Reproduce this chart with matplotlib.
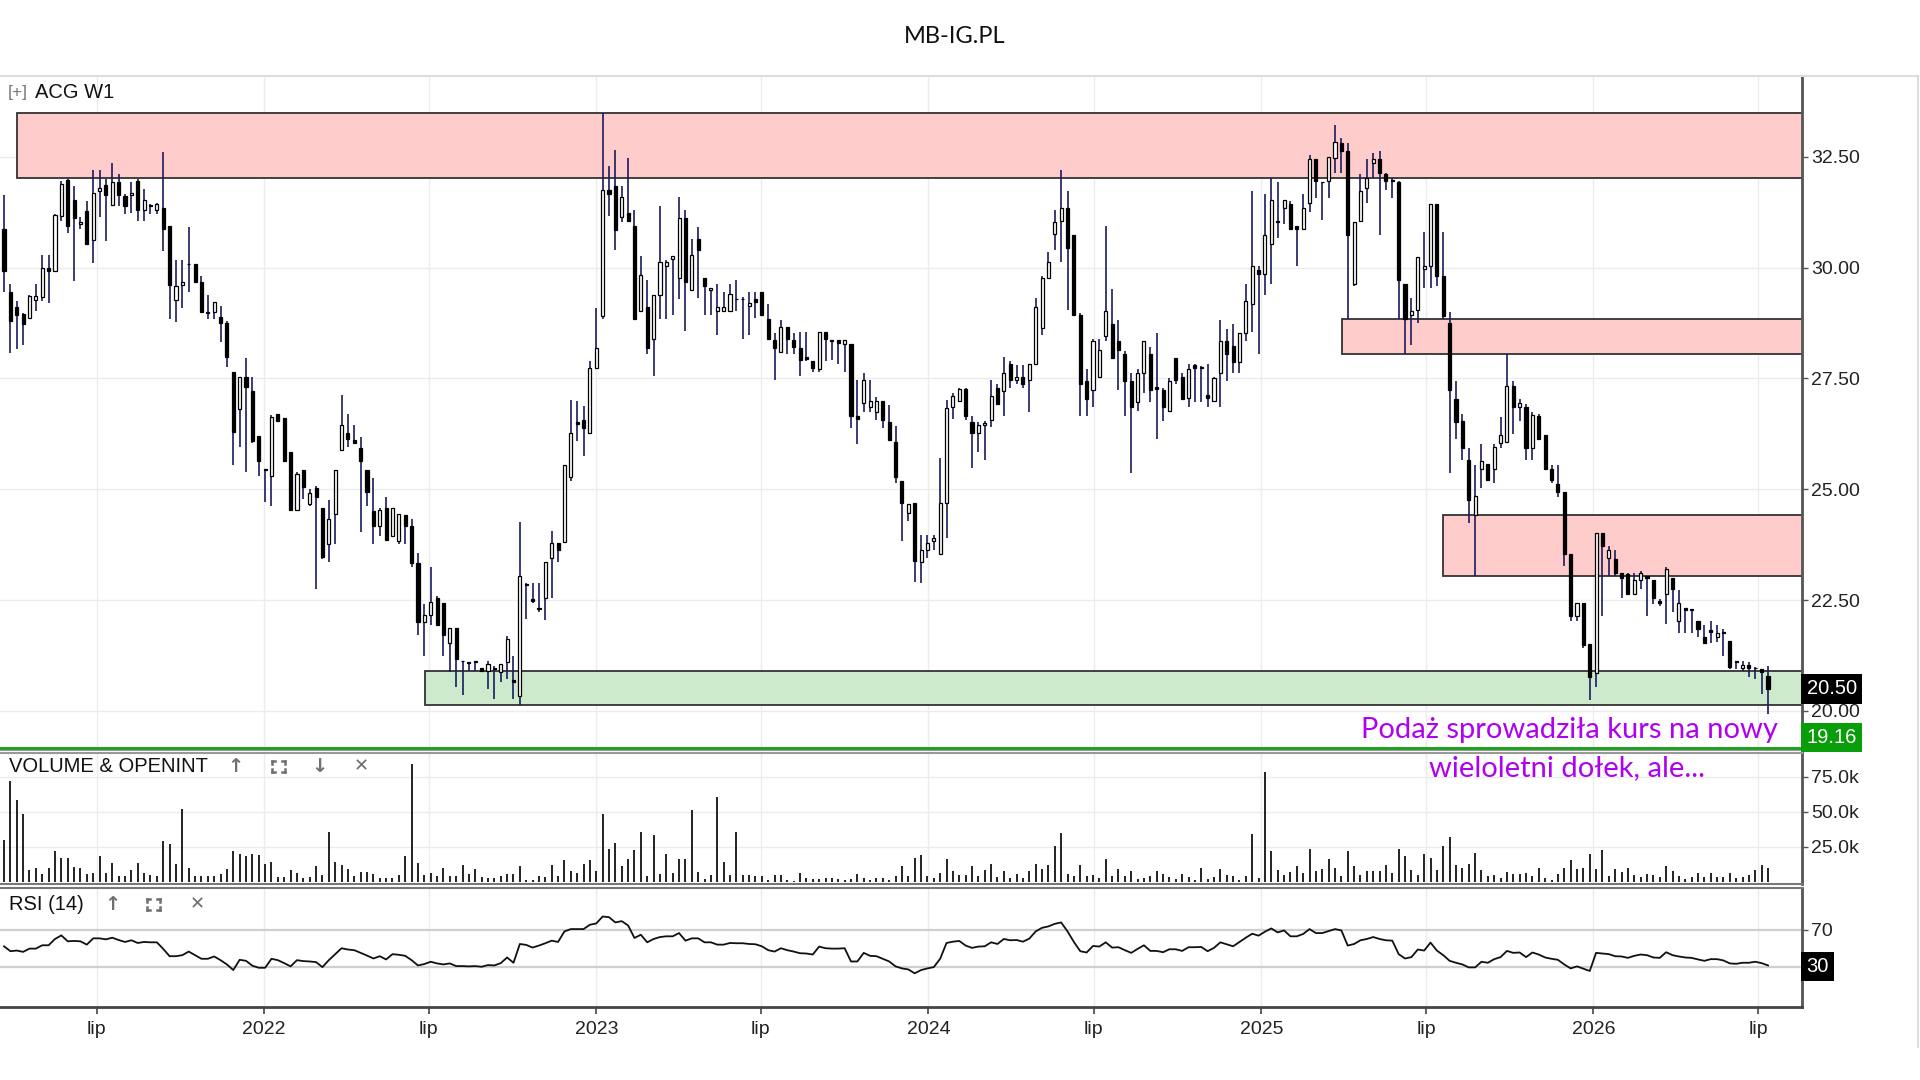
import numpy as np
import pandas as pd
import matplotlib
matplotlib.use("Agg")
import matplotlib.pyplot as plt
import matplotlib.dates as mdates
import matplotlib.transforms as mtransforms
from matplotlib.patches import Rectangle
from matplotlib.lines import Line2D

plt.rcParams['font.family'] = ['Liberation Sans', 'DejaVu Sans']

# ---- weekly candles ACG (W1) ----
start_date = "2021-03-21"

opens = [30.88, 29.46, 29.10, 28.96, 28.86, 29.27, 29.33, 29.98, 29.92, 31.17,
         31.98, 31.53, 30.98, 31.27, 30.63, 31.72, 31.86, 31.42, 31.94, 31.61,
         31.63, 31.96, 31.29, 31.39, 31.29, 31.35, 30.93, 29.27, 29.60, 30.08,
         30.08, 29.67, 29.00, 29.00, 28.89, 28.75, 27.64, 26.81, 27.54, 27.21,
         26.21, 25.45, 25.29, 26.69, 26.61, 25.85, 24.53, 25.43, 24.67, 25.03,
         24.58, 23.77, 24.44, 25.89, 26.28, 26.11, 25.94, 25.43, 24.50, 24.18,
         24.58, 23.94, 23.83, 24.42, 24.17, 23.33, 22.00, 22.17, 22.54, 22.44,
         21.54, 21.88, 21.13, 21.10, 21.10, 20.96, 20.90, 20.98, 20.89, 21.10,
         20.70, 20.33, 22.86, 22.53, 22.30, 22.54, 23.44, 23.79, 23.81, 25.27,
         26.52, 26.56, 26.27, 27.74, 28.90, 31.74, 31.85, 31.13, 31.22, 30.94,
         29.02, 29.11, 28.39, 29.38, 30.04, 30.20, 29.76, 31.12, 29.49, 30.65,
         29.76, 29.49, 29.02, 29.02, 29.02, 29.29, 29.30, 29.13, 29.29, 29.46,
         28.84, 28.37, 28.10, 28.66, 28.37, 28.19, 27.98, 27.90, 27.72, 28.54,
         28.37, 28.37, 28.28, 28.28, 26.65, 26.94, 26.85, 26.74, 27.00, 26.52,
         26.07, 25.18, 24.46, 24.70, 23.37, 23.62, 23.84, 23.53, 24.70, 26.85,
         26.99, 27.26, 26.52, 26.28, 26.45, 26.56, 27.28, 27.21, 27.83, 27.46,
         27.54, 27.46, 27.83, 28.63, 29.76, 30.76, 31.04, 31.34, 30.74, 28.93,
         27.44, 27.23, 27.54, 28.46, 28.72, 28.35, 28.04, 27.44, 26.96, 27.63,
         28.04, 27.30, 27.23, 26.76, 27.95, 27.53, 27.06, 27.81, 27.74, 27.12,
         27.00, 27.63, 28.35, 28.24, 27.86, 28.53, 29.17, 29.94, 29.85, 30.54,
         31.04, 31.34, 31.43, 30.94, 30.87, 31.46, 32.44, 31.94, 31.96, 32.47,
         32.80, 32.63, 29.62, 31.04, 31.79, 32.35, 32.44, 32.12, 31.98, 31.94,
         29.64, 28.93, 29.04, 29.96, 30.04, 31.43, 29.82, 28.75, 27.03, 26.54,
         25.65, 24.42, 25.45, 25.58, 25.45, 26.04, 26.07, 27.32, 26.85, 26.85,
         25.92, 26.65, 26.22, 25.45, 25.12, 24.93, 23.53, 22.14, 22.44, 21.52,
         20.85, 24.02, 23.44, 23.42, 23.12, 23.10, 22.63, 22.95, 23.04, 22.95,
         22.49, 22.63, 23.00, 22.03, 22.32, 22.30, 22.03, 21.67, 21.83, 21.67,
         21.78, 21.58, 21.12, 20.96, 21.03, 20.98, 20.94, 20.80]

highs = [31.64, 29.64, 29.25, 28.97, 29.37, 29.63, 30.29, 30.29, 31.20, 31.96,
         32.00, 31.83, 31.14, 31.50, 32.19, 32.19, 32.00, 32.36, 32.11, 31.67,
         31.93, 32.00, 31.77, 31.44, 31.46, 32.61, 30.93, 30.17, 30.17, 30.92,
         30.08, 29.80, 29.39, 29.23, 29.14, 28.79, 27.64, 27.54, 27.96, 27.54,
         26.21, 25.46, 26.67, 26.69, 26.61, 25.85, 25.38, 25.43, 25.00, 25.08,
         24.58, 24.75, 25.43, 27.13, 26.69, 26.44, 26.17, 25.43, 25.25, 24.58,
         24.83, 24.58, 24.44, 24.42, 24.33, 23.56, 22.42, 23.25, 22.60, 22.44,
         21.88, 21.88, 21.13, 21.11, 21.13, 20.98, 21.13, 21.02, 21.07, 21.70,
         21.25, 24.26, 22.88, 22.88, 22.88, 23.35, 24.06, 23.79, 25.54, 27.01,
         27.00, 26.88, 27.90, 29.08, 33.48, 32.28, 32.65, 31.85, 32.47, 31.29,
         30.27, 29.73, 29.38, 31.38, 30.18, 30.27, 31.58, 31.29, 30.65, 30.92,
         29.76, 29.55, 29.64, 29.44, 29.64, 29.73, 29.33, 29.44, 29.44, 29.46,
         29.17, 28.53, 28.81, 28.66, 28.53, 28.54, 28.54, 27.90, 28.54, 28.54,
         28.37, 28.37, 28.37, 28.28, 27.46, 27.63, 27.46, 27.08, 27.00, 26.90,
         26.43, 25.18, 24.67, 24.70, 23.97, 23.97, 23.97, 25.71, 27.01, 27.17,
         27.28, 27.28, 26.65, 26.52, 26.54, 27.46, 27.37, 27.99, 27.90, 27.81,
         27.81, 27.83, 29.31, 29.82, 30.36, 31.29, 32.20, 31.72, 30.74, 28.97,
         27.71, 28.39, 28.39, 30.94, 29.51, 28.81, 28.12, 27.62, 27.72, 28.35,
         28.21, 28.53, 27.28, 27.50, 27.95, 27.63, 27.83, 27.83, 27.78, 27.83,
         27.54, 28.81, 28.62, 28.72, 28.53, 29.64, 31.72, 30.04, 31.65, 32.03,
         31.92, 31.52, 31.49, 30.94, 31.65, 32.53, 32.44, 31.94, 32.50, 33.21,
         32.92, 32.80, 31.03, 32.10, 32.44, 32.59, 32.63, 32.14, 32.02, 31.96,
         29.64, 29.31, 30.24, 30.80, 31.43, 31.43, 30.80, 28.99, 27.44, 26.70,
         25.92, 25.54, 26.03, 25.58, 26.03, 26.63, 28.04, 27.44, 27.03, 26.92,
         26.74, 26.70, 26.22, 25.54, 25.54, 24.93, 23.53, 22.44, 22.44, 21.52,
         24.02, 24.02, 23.72, 23.62, 23.12, 23.12, 23.12, 23.15, 23.05, 22.95,
         22.52, 23.24, 23.00, 22.72, 22.32, 22.31, 22.03, 21.94, 22.03, 21.94,
         21.85, 21.58, 21.12, 21.12, 21.10, 20.99, 20.94, 21.01]

lows = [29.46, 28.08, 28.17, 28.25, 28.86, 29.03, 29.25, 29.21, 29.90, 31.04,
        30.79, 29.69, 30.88, 30.50, 30.11, 31.13, 30.61, 31.38, 31.38, 31.20,
        31.22, 31.04, 31.04, 31.20, 31.20, 30.38, 28.83, 28.77, 29.08, 29.44,
        29.68, 29.00, 28.83, 28.83, 28.33, 27.75, 25.54, 25.96, 25.38, 26.04,
        25.29, 24.71, 24.63, 26.53, 25.63, 24.53, 24.53, 24.78, 24.63, 22.75,
        23.42, 23.35, 23.77, 25.89, 25.96, 26.04, 24.03, 24.63, 23.77, 23.94,
        23.86, 23.94, 23.77, 23.77, 23.25, 21.71, 21.25, 21.94, 21.94, 21.25,
        20.88, 20.54, 20.36, 20.90, 20.90, 20.90, 20.50, 20.27, 20.65, 20.71,
        20.27, 20.13, 22.08, 22.43, 22.23, 22.05, 22.54, 23.37, 23.81, 25.18,
        26.09, 25.76, 26.27, 27.74, 28.84, 31.16, 30.40, 31.03, 31.04, 28.84,
        29.02, 28.04, 27.56, 28.84, 28.84, 28.93, 29.29, 28.57, 29.49, 29.31,
        28.93, 28.93, 28.48, 29.02, 29.02, 29.02, 28.39, 28.48, 28.87, 28.93,
        28.39, 27.46, 28.10, 28.04, 28.04, 27.56, 27.90, 27.65, 27.65, 27.90,
        27.92, 27.83, 27.65, 26.38, 26.03, 26.74, 26.74, 26.56, 26.38, 26.12,
        25.15, 23.84, 24.29, 22.90, 22.88, 23.46, 23.62, 23.53, 23.90, 26.58,
        26.96, 26.56, 25.47, 25.83, 25.65, 26.40, 26.92, 26.65, 27.29, 27.37,
        27.29, 26.74, 27.83, 28.48, 29.76, 30.40, 30.13, 29.04, 28.93, 26.65,
        26.65, 26.85, 27.54, 28.35, 27.95, 27.23, 26.65, 25.36, 26.76, 27.17,
        26.96, 26.13, 26.54, 26.74, 27.38, 27.03, 26.85, 26.96, 26.96, 26.85,
        26.96, 26.85, 27.44, 27.63, 27.63, 28.35, 28.54, 28.06, 29.38, 29.64,
        30.67, 30.98, 30.87, 30.04, 30.87, 31.25, 31.56, 31.07, 31.56, 32.14,
        32.14, 28.84, 29.58, 31.04, 31.46, 32.01, 30.74, 31.76, 31.56, 28.84,
        28.06, 28.26, 28.75, 29.55, 29.55, 29.58, 28.84, 25.36, 26.13, 25.65,
        24.24, 23.04, 25.03, 25.18, 25.15, 25.92, 26.04, 26.25, 26.54, 25.65,
        25.65, 26.13, 25.45, 25.15, 24.82, 23.26, 22.03, 22.03, 21.43, 20.24,
        20.54, 22.14, 23.04, 23.04, 22.54, 22.63, 22.63, 22.74, 22.14, 22.41,
        22.37, 21.96, 22.23, 21.76, 21.76, 21.76, 21.67, 21.54, 21.54, 21.56,
        21.25, 20.94, 20.94, 20.90, 20.76, 20.72, 20.38, 19.94]

closes = [29.92, 28.79, 28.92, 28.72, 29.35, 29.35, 29.98, 29.92, 31.18, 31.88,
          30.94, 31.11, 31.02, 30.53, 31.68, 31.79, 31.63, 31.94, 31.64, 31.38,
          31.68, 31.29, 31.52, 31.42, 31.43, 30.88, 29.60, 29.58, 29.67, 30.07,
          29.68, 29.00, 28.98, 29.23, 28.75, 27.98, 26.29, 27.54, 27.31, 26.08,
          25.63, 25.44, 26.63, 26.53, 25.63, 24.53, 25.35, 25.04, 24.92, 24.83,
          23.48, 24.33, 25.43, 26.44, 26.13, 26.04, 25.63, 24.94, 24.18, 24.53,
          23.86, 24.58, 24.44, 24.18, 23.33, 22.00, 22.17, 22.46, 21.94, 21.71,
          21.88, 21.17, 21.12, 21.09, 21.13, 20.90, 21.07, 20.95, 21.05, 21.63,
          20.66, 23.05, 22.84, 22.47, 22.32, 23.35, 23.79, 23.62, 25.54, 26.27,
          26.47, 26.38, 27.74, 28.19, 31.74, 31.67, 30.85, 31.58, 31.04, 28.84,
          29.84, 28.19, 29.38, 30.13, 30.13, 30.25, 31.12, 29.67, 30.29, 30.40,
          29.58, 29.55, 29.11, 29.11, 29.40, 29.28, 29.28, 29.20, 29.23, 28.93,
          28.39, 28.19, 28.66, 28.39, 28.21, 27.92, 27.93, 27.74, 28.54, 28.39,
          28.35, 28.30, 28.37, 26.65, 26.58, 27.47, 27.00, 27.00, 26.56, 26.12,
          25.27, 24.70, 24.67, 23.39, 23.62, 23.78, 23.90, 24.70, 26.83, 27.10,
          27.26, 26.65, 26.28, 26.46, 26.50, 27.10, 26.92, 27.63, 27.46, 27.54,
          27.37, 27.83, 29.11, 29.76, 30.13, 31.03, 31.34, 30.45, 28.93, 27.37,
          27.03, 28.35, 28.15, 29.02, 27.95, 28.15, 27.44, 26.85, 27.63, 28.35,
          27.23, 27.25, 26.85, 27.44, 27.46, 27.03, 27.72, 27.74, 27.76, 27.05,
          27.50, 28.35, 28.06, 27.86, 28.53, 29.24, 30.03, 29.85, 30.74, 31.52,
          31.02, 31.52, 30.87, 30.87, 31.34, 32.44, 31.96, 31.92, 32.50, 32.83,
          32.63, 30.74, 31.03, 31.72, 32.03, 32.44, 32.14, 31.96, 31.96, 29.73,
          28.84, 29.02, 30.24, 30.04, 31.43, 29.82, 28.90, 27.23, 26.52, 25.92,
          24.76, 24.85, 25.63, 25.20, 25.96, 26.22, 27.32, 26.85, 26.94, 25.92,
          26.67, 26.13, 25.45, 25.20, 24.94, 23.53, 22.14, 22.44, 21.49, 20.76,
          24.02, 23.72, 23.62, 23.12, 23.00, 22.63, 22.95, 23.12, 23.00, 22.54,
          22.44, 23.21, 22.74, 22.44, 22.28, 22.28, 21.85, 21.54, 21.79, 21.76,
          21.76, 21.00, 21.10, 21.03, 20.97, 20.96, 20.87, 20.50]

# volume in thousands
volume_k = [30.0, 71.6, 58.3, 48.3, 8.3, 9.8, 5.5, 9.8, 21.7, 16.9,
            16.9, 10.7, 9.8, 5.5, 6.2, 18.1, 6.2, 13.3, 4.3, 4.3,
            8.3, 13.3, 6.2, 4.8, 3.8, 28.8, 26.9, 12.6, 51.9, 9.8,
            3.8, 4.3, 4.3, 3.8, 5.5, 9.0, 21.7, 19.8, 18.1, 19.8,
            19.0, 12.6, 14.3, 3.6, 3.1, 8.3, 6.2, 2.4, 3.1, 10.9,
            4.8, 35.2, 14.3, 11.9, 9.0, 4.3, 7.1, 6.7, 5.5, 2.4,
            2.4, 2.4, 4.8, 18.1, 84.0, 13.3, 4.8, 6.2, 3.8, 9.8,
            3.8, 4.3, 11.9, 5.5, 9.0, 3.1, 2.4, 2.4, 3.8, 5.5,
            5.5, 10.9, 1.4, 1.4, 3.8, 3.1, 11.9, 3.8, 15.5, 7.4,
            6.2, 12.6, 15.5, 7.4, 48.3, 23.3, 27.6, 10.9, 16.2, 22.6,
            35.7, 3.8, 33.3, 5.5, 19.8, 6.2, 16.2, 16.2, 51.2, 7.1,
            1.9, 4.8, 60.7, 14.3, 4.8, 35.7, 4.8, 4.8, 3.8, 3.8,
            1.2, 4.8, 4.8, 1.2, 0.5, 6.2, 2.4, 1.9, 1.9, 2.4,
            2.4, 1.9, 1.2, 1.9, 5.5, 2.6, 1.4, 2.4, 2.4, 1.4,
            3.8, 10.9, 3.8, 16.9, 19.0, 4.3, 2.6, 6.2, 16.2, 7.4,
            4.8, 4.8, 10.9, 3.8, 8.3, 12.6, 3.1, 7.4, 2.4, 5.5,
            2.6, 7.4, 12.6, 9.0, 11.9, 25.2, 34.7, 5.5, 3.8, 11.9,
            3.8, 4.8, 2.6, 16.2, 3.8, 9.0, 3.8, 7.4, 1.9, 2.4,
            3.8, 7.4, 5.5, 3.1, 1.9, 5.5, 3.1, 1.4, 9.8, 2.0,
            3.1, 9.0, 4.8, 3.8, 1.4, 3.8, 33.8, 2.4, 78.5, 21.9,
            8.3, 4.8, 7.1, 10.9, 6.2, 23.3, 7.4, 9.0, 16.2, 9.8,
            3.8, 21.9, 10.9, 4.8, 7.4, 7.4, 7.4, 11.9, 6.2, 23.3,
            18.1, 8.3, 4.8, 19.8, 16.9, 8.3, 25.2, 31.6, 11.9, 9.5,
            12.6, 20.5, 8.3, 3.8, 4.8, 2.6, 7.1, 5.5, 5.5, 6.2,
            3.8, 9.8, 2.6, 1.4, 5.5, 9.8, 15.5, 9.0, 9.8, 19.8,
            9.0, 22.6, 3.8, 9.0, 7.1, 9.8, 4.8, 3.1, 5.5, 4.8,
            3.1, 10.9, 7.4, 3.8, 1.9, 3.1, 6.2, 3.1, 6.2, 3.1,
            3.1, 6.2, 2.4, 3.1, 4.8, 8.6, 11.9, 9.8]

rsi14 = [52.1, 46.8, 47.5, 46.1, 49.6, 49.6, 53.2, 53.2, 60.0, 63.9,
         57.5, 57.9, 57.5, 53.9, 60.7, 60.7, 59.6, 61.4, 58.9, 56.8,
         58.6, 55.7, 56.8, 56.4, 56.4, 49.3, 41.4, 41.4, 42.5, 46.4,
         42.5, 38.6, 38.6, 41.1, 37.1, 32.5, 26.4, 37.5, 36.4, 31.1,
         28.9, 28.9, 38.6, 37.1, 33.9, 30.4, 37.1, 36.1, 35.7, 35.0,
         29.6, 37.1, 43.6, 50.0, 48.6, 47.9, 45.0, 42.1, 38.9, 41.4,
         37.9, 43.6, 42.9, 41.8, 37.1, 31.4, 32.9, 35.4, 33.6, 32.5,
         33.6, 30.7, 30.7, 30.4, 30.7, 30.0, 31.8, 31.4, 33.9, 40.0,
         34.3, 54.6, 53.6, 50.7, 52.9, 55.4, 58.2, 56.8, 68.2, 70.7,
         70.7, 70.7, 75.4, 76.8, 84.3, 83.6, 77.9, 79.3, 74.6, 61.1,
         64.6, 56.4, 60.0, 62.1, 62.9, 62.9, 66.4, 58.2, 60.7, 60.7,
         56.4, 56.4, 53.9, 53.9, 55.7, 55.4, 55.4, 54.6, 54.3, 52.1,
         47.9, 46.4, 50.0, 47.9, 46.4, 44.6, 44.3, 43.2, 51.8, 50.0,
         49.6, 49.6, 50.0, 35.7, 35.7, 45.0, 41.8, 41.4, 38.6, 35.7,
         30.4, 28.2, 27.1, 22.9, 26.4, 28.2, 29.6, 38.6, 55.7, 57.1,
         57.9, 52.9, 50.4, 51.8, 52.1, 56.4, 54.6, 60.0, 58.6, 58.9,
         57.1, 60.4, 68.2, 72.1, 73.6, 76.4, 77.9, 68.2, 56.8, 46.8,
         45.4, 52.5, 51.8, 56.4, 50.7, 51.1, 47.9, 45.0, 49.3, 53.2,
         47.1, 47.1, 45.7, 48.9, 48.9, 47.1, 51.1, 51.1, 51.4, 46.8,
         50.4, 56.4, 54.3, 52.1, 56.8, 61.4, 65.7, 63.6, 67.9, 71.4,
         67.1, 69.3, 62.9, 62.9, 65.4, 70.7, 66.4, 66.4, 68.6, 70.7,
         69.3, 52.9, 54.6, 58.6, 60.0, 62.1, 60.0, 58.6, 58.2, 43.6,
         38.9, 40.4, 48.6, 47.5, 56.1, 47.5, 42.5, 36.4, 34.3, 32.5,
         29.3, 29.3, 35.4, 34.3, 38.2, 40.4, 47.1, 45.0, 45.4, 40.4,
         45.4, 43.2, 40.0, 38.6, 37.5, 32.5, 28.2, 30.4, 27.9, 25.4,
         45.0, 44.3, 43.6, 41.4, 41.1, 39.6, 41.8, 43.2, 42.5, 40.0,
         39.6, 45.7, 42.5, 41.1, 40.0, 39.6, 37.9, 36.4, 38.2, 38.2,
         36.8, 33.6, 33.2, 34.3, 34.3, 35.4, 33.9, 31.4]

# supply / demand zones drawn on the chart
zone_start = ['2021-04-04', '2022-06-27', '2025-03-31', '2025-07-20']
zone_low = [32.02, 20.13, 28.06, 23.04]
zone_high = [33.48, 20.91, 28.84, 24.42]
zone_face = ['#ffcccc', '#cdeacd', '#ffcccc', '#ffcccc']
support_level = 19.16

tick_dates = ['2021-07-01', '2022-01-01', '2022-07-01', '2023-01-01', '2023-07-01',
              '2024-01-01', '2024-07-01', '2025-01-01', '2025-07-01', '2026-01-01',
              '2026-07-01']
tick_labels = ['lip', '2022', 'lip', '2023', 'lip', '2024', 'lip', '2025', 'lip',
               '2026', 'lip']
price_ticks = [20.0, 22.5, 25.0, 27.5, 30.0, 32.5]
vol_ticks = [25, 50, 75]

# ---- layout helpers (pixels of the 1920x1080 canvas) ----
W, H = 1920, 1080
AX_RIGHT = 1801.7


def fx(px):
    return px / W


def fy(py):
    return 1 - py / H


def panel(top, bottom):
    return [0, fy(bottom), fx(AX_RIGHT), (bottom - top) / H]


fig = plt.figure(figsize=(W / 100, H / 100), dpi=100)
ax = fig.add_axes(panel(76, 750))
axv = fig.add_axes(panel(753, 884.3), sharex=ax)
axr = fig.add_axes(panel(888.3, 1006.7), sharex=ax)

dates = pd.date_range(start_date, periods=len(closes), freq="7D")
x = mdates.date2num(dates.to_pydatetime())
o, h, l, c = (np.array(v) for v in (opens, highs, lows, closes))
up = c >= o

x_left = mdates.datestr2num('2021-03-16 14:00')
x_right = mdates.datestr2num('2026-08-18')

# ---- price panel ----
for s, lo, hi, fc in zip(zone_start, zone_low, zone_high, zone_face):
    x0 = mdates.datestr2num(s)
    ax.add_patch(Rectangle((x0, lo), x_right + 30 - x0, hi - lo, facecolor=fc,
                           edgecolor='#333333', lw=1.3, zorder=1))

ax.vlines(x, l, h, color='#1b1b60', lw=1.2, zorder=2)
ax.bar(x, np.maximum(np.abs(c - o), 0.015), bottom=np.minimum(o, c), width=3.4,
       color=['white' if u else 'black' for u in up], edgecolor='black',
       linewidth=0.9, zorder=3)
ax.axhline(support_level, color='#23a023', lw=2.2, zorder=4)

ax.set_xlim(x_left, x_right)
ax.set_ylim(19.12, 34.32)

for a in (ax, axv, axr):
    a.set_xticks([mdates.datestr2num(d) for d in tick_dates])
    a.set_axisbelow(True)
    a.yaxis.tick_right()
    a.tick_params(axis='y', direction='out', length=4, width=1, color='#555555',
                  pad=3, labelsize=14, labelcolor='#222222')
    a.spines['left'].set_visible(False)
    a.spines['right'].set_color('#555555')
    a.spines['right'].set_linewidth(2)
    a.set_facecolor('white')

ax.set_yticks(price_ticks)
ax.set_yticklabels([f"{t:.2f}" for t in price_ticks])
ax.grid(True, color='#ececec', lw=1)
ax.spines['top'].set_visible(False)
ax.spines['bottom'].set_color('#999999')
ax.spines['bottom'].set_linewidth(1.5)
ax.tick_params(axis='x', length=0, labelbottom=False)

blend = mtransforms.blended_transform_factory(ax.transAxes, ax.transData)
ax.annotate(f"{closes[-1]:.2f}", xy=(1, closes[-1]), xycoords=blend,
            xytext=(3.6, 0), textcoords='offset points', ha='left', va='center',
            color='white', fontsize=14.5,
            bbox=dict(boxstyle='square,pad=0.26', fc='black', ec='none'),
            annotation_clip=False, zorder=10)
ax.annotate(f"{support_level:.2f}", xy=(1, 0), xycoords='axes fraction',
            xytext=(3.6, 2.2), textcoords='offset points', ha='left', va='bottom',
            color='white', fontsize=14.5,
            bbox=dict(boxstyle='square,pad=0.26', fc='#0a9d0a', ec='none'),
            annotation_clip=False, zorder=10)

# ---- volume panel ----
axv.vlines(x, 0, volume_k, color='#111111', lw=1.3)
axv.set_ylim(-1.9, 91.9)
axv.set_yticks(vol_ticks)
axv.set_yticklabels([f"{t:.1f}k" for t in vol_ticks])
axv.grid(True, color='#ececec', lw=1)
axv.spines['top'].set_color('#999999')
axv.spines['top'].set_linewidth(1.5)
axv.spines['bottom'].set_color('#777777')
axv.spines['bottom'].set_linewidth(1.5)
axv.tick_params(axis='x', length=0, labelbottom=False)

# ---- RSI panel ----
axr.plot(x, rsi14, color='#111111', lw=1.3)
axr.axhline(70, color='#cfcfcf', lw=1.6, zorder=1)
axr.axhline(30, color='#cfcfcf', lw=1.6, zorder=1)
axr.set_ylim(-13.2, 114.8)
axr.set_yticks([70])
axr.set_yticklabels(['70'])
axr.grid(True, axis='x', color='#ececec', lw=1)
axr.spines['top'].set_color('#777777')
axr.spines['top'].set_linewidth(1.5)
axr.spines['bottom'].set_color('#444444')
axr.spines['bottom'].set_linewidth(2)
axr.set_xticklabels(tick_labels)
axr.tick_params(axis='x', direction='out', length=5, width=1.2, color='#444444',
                pad=5, labelsize=14, labelcolor='#222222')
blend_r = mtransforms.blended_transform_factory(axr.transAxes, axr.transData)
axr.annotate("30", xy=(1, 30), xycoords=blend_r, xytext=(3.6, 0),
             textcoords='offset points', ha='left', va='center', color='white',
             fontsize=14.5, bbox=dict(boxstyle='square,pad=0.26', fc='black', ec='none'),
             annotation_clip=False, zorder=10)

# ---- frame lines of the screenshot ----
fig.add_artist(Line2D([0, fx(1918)], [fy(76), fy(76)], color='#dddddd', lw=1.5))
fig.add_artist(Line2D([fx(1918), fx(1918)], [fy(76), fy(1047)], color='#d5d5d5', lw=1.2))

# ---- headers ----
fig.text(fx(955), fy(36.5), 'MB-IG.PL', ha='center', va='center', fontsize=17,
         family=['Lato', 'DejaVu Sans'], color='#111111')
fig.text(fx(8), fy(92), '[+]', ha='left', va='center', fontsize=12.5, color='#777777')
fig.text(fx(35), fy(92), 'ACG W1', ha='left', va='center', fontsize=14.5, color='#111111')

fig.text(fx(8.6), fy(767), 'VOLUME & OPENINT', ha='left', va='center',
         fontsize=14.5, color='#111111')
fig.text(fx(8.6), fy(904), 'RSI (14)', ha='left', va='center',
         fontsize=14.5, color='#111111')


def icon_text(cx, cy, s, size=14):
    fig.text(fx(cx), fy(cy), s, ha='center', va='center', fontsize=size,
             fontweight='bold', color='#707070', family=['DejaVu Sans'])


def icon_full(cx, cy, w=6.5, hh=5.5, arm=3.0):
    for sx in (-1, 1):
        for sy in (-1, 1):
            px, py = cx + sx * w, cy + sy * hh
            fig.add_artist(Line2D([fx(px), fx(px - sx * arm)], [fy(py), fy(py)],
                                  color='#707070', lw=1.8))
            fig.add_artist(Line2D([fx(px), fx(px)], [fy(py), fy(py - sy * arm)],
                                  color='#707070', lw=1.8))


icon_text(235, 766, '↑')
icon_full(278, 766)
icon_text(319, 766, '↓')
icon_text(361, 766, '✕', 13)
icon_text(112, 904, '↑')
icon_full(153, 904)
icon_text(197, 904, '✕', 13)

# ---- comment on the chart ----
fig.text(fx(1569), fy(730), 'Podaż sprowadziła kurs na nowy', ha='center', va='center',
         fontsize=21, color='#b000f2', family=['Lato', 'DejaVu Sans'], zorder=20)
fig.text(fx(1567), fy(768), 'wieloletni dołek, ale...', ha='center', va='center',
         fontsize=21, color='#b000f2', family=['Lato', 'DejaVu Sans'], zorder=20)

fig.savefig('out.png', dpi=100, facecolor='white')
